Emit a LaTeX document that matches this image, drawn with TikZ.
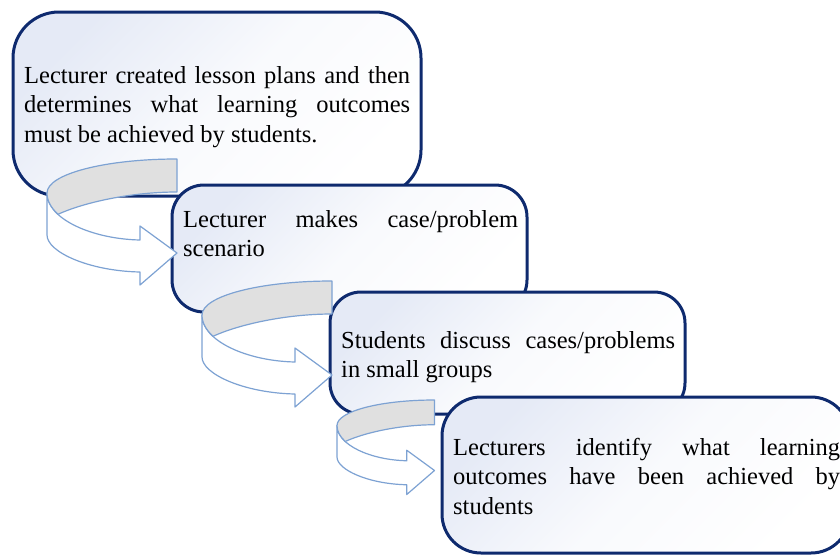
\documentclass[tikz,border=0pt]{standalone}
\usepackage{fontspec}
\setmainfont{Liberation Serif}
\usepackage{tikz}
\usetikzlibrary{calc}
\definecolor{boxline}{HTML}{0E2A6E}
\definecolor{boxtint}{HTML}{E5EAF6}
\definecolor{arrowline}{HTML}{7DA2D3}
\definecolor{arrowback}{HTML}{E0E0E0}
\hbadness=10000
\tolerance=9999
\hyphenpenalty=10000

\newcommand{\bentarrow}[3]{%
  \begin{scope}[shift={(#1,#2)}, scale=#3]
    \draw[arrowpart, fill=white] (0,34) -- (0,76)
      .. controls (0,93) and (42,112) .. (93,113) -- (93,126) -- (130,94)
      -- (93,67) -- (93,81) .. controls (45,80) and (0,60) .. (0,34) -- cycle;
    \draw[arrowpart, fill=arrowback] (130,0) .. controls (58,0) and (0,15) .. (0,34)
      .. controls (0,41.8) and (4,48.7) .. (11,55.3)
      .. controls (38,43) and (85,33) .. (130,33) -- cycle;
  \end{scope}}

\begin{document}
\begin{tikzpicture}[x=1pt, y=-1pt,
  stagebox/.style = {draw=boxline, line width=3pt, top color=boxtint, bottom color=white,
    middle color=white!75!boxtint, shading angle=45, inner sep=0pt},
  stagetext/.style = {anchor=base west, inner sep=0pt, align=justify,
    font=\fontsize{24.5pt}{29.5pt}\selectfont},
  arrowpart/.style = {draw=arrowline, line width=1.2pt, line join=round}]
  \useasboundingbox (0,0) rectangle (840,554);
  \node[stagebox, minimum width=408pt, minimum height=184pt, rounded corners=46pt] (0) at (217,104) {};
  \node[stagebox, minimum width=355pt, minimum height=127pt, rounded corners=32pt] (1) at (349.5,248.5) {};
  \node[stagebox, minimum width=355pt, minimum height=122pt, rounded corners=31pt] (2) at (507.5,353) {};
  \node[stagebox, minimum width=408pt, minimum height=156pt, rounded corners=39pt] (3) at (646,475) {};
  \node[stagetext, text width=386pt] (4) at (24,83)
    {Lecturer created lesson plans and then\linebreak determines what learning outcomes\linebreak must be achieved by students.};
  \node[stagetext, text width=335pt] (5) at (183,227)
    {Lecturer makes case/problem\linebreak scenario};
  \node[stagetext, text width=334pt] (6) at (341,348)
    {Students discuss cases/problems\linebreak in small groups};
  \node[stagetext, text width=387pt] (7) at (453,455)
    {Lecturers identify what learning\linebreak outcomes have been achieved by\linebreak students};
  \bentarrow{47}{159}{1}
  \bentarrow{202}{281}{1}
  \bentarrow{337}{400}{0.75}
\end{tikzpicture}
\end{document}
